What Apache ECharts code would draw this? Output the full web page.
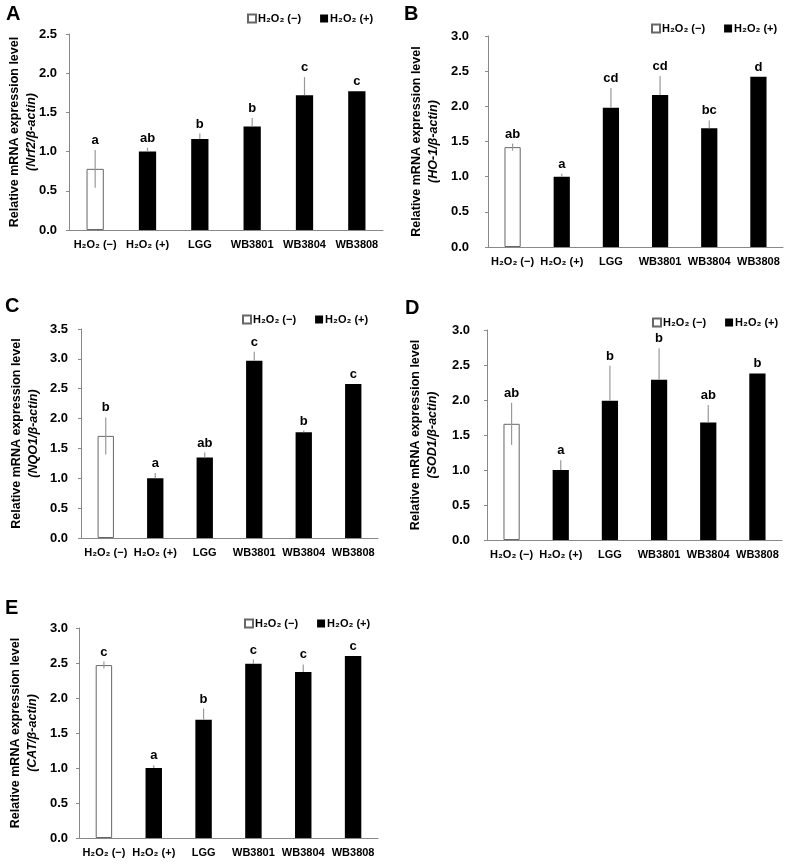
<!DOCTYPE html>
<html>
<head>
<meta charset="utf-8">
<script src="https://cdn.jsdelivr.net/npm/echarts@6/dist/echarts.min.js"></script>
<style>
  html, body { margin: 0; padding: 0; background: #fff; }
  #chart { width: 787px; height: 865px; }
</style>
</head>
<body>
<div id="chart"></div>
<script>
// groups on the x axis
const groups = ['H₂O₂ (−)', 'H₂O₂ (+)', 'LGG', 'WB3801', 'WB3804', 'WB3808']
const negName = 'H₂O₂ (−)'
const posName = 'H₂O₂ (+)'

// mean expression per panel
const nrf2Mean = [0.78, 1.00, 1.16, 1.32, 1.72, 1.77]
const ho1Mean = [1.42, 1.00, 1.98, 2.16, 1.69, 2.42]
const nqo1Mean = [1.71, 1.00, 1.35, 2.97, 1.77, 2.58]
const sod1Mean = [1.66, 1.00, 1.99, 2.29, 1.68, 2.38]
const catMean = [2.47, 1.00, 1.69, 2.49, 2.37, 2.60]

// error (SD) per panel
const nrf2Err = [0.24, 0.05, 0.07, 0.11, 0.23, 0]
const ho1Err = [0.05, 0.04, 0.28, 0.27, 0.11, 0]
const nqo1Err = [0.31, 0.09, 0.08, 0.15, 0.03, 0]
const sod1Err = [0.30, 0.14, 0.50, 0.45, 0.25, 0]
const catErr = [0.05, 0.04, 0.16, 0.06, 0.11, 0]

// significance letters
const nrf2Sig = ['a', 'ab', 'b', 'b', 'c', 'c']
const ho1Sig = ['ab', 'a', 'cd', 'cd', 'bc', 'd']
const nqo1Sig = ['b', 'a', 'ab', 'c', 'b', 'c']
const sod1Sig = ['ab', 'a', 'b', 'b', 'ab', 'b']
const catSig = ['c', 'a', 'b', 'c', 'c', 'c']

const FONT = '"Liberation Sans", Arial, sans-serif'

// nameX = centre of the two-line y title
const panels = [
  { tag: 'A', gene: 'Nrf2', mean: nrf2Mean, err: nrf2Err, sig: nrf2Sig, max: 2.5,
    grid: { left: 69, top: 34, width: 314, height: 196 }, labelGap: 12, nameX: 23,
    legend: { left: 247, top: 13 }, tagPos: [6, 4] },
  { tag: 'B', gene: 'HO-1', mean: ho1Mean, err: ho1Err, sig: ho1Sig, max: 3.0,
    grid: { left: 488, top: 36, width: 295, height: 211 }, labelGap: 19, nameX: 425,
    legend: { left: 651, top: 23 }, tagPos: [404, 4] },
  { tag: 'C', gene: 'NQO1', mean: nqo1Mean, err: nqo1Err, sig: nqo1Sig, max: 3.5,
    grid: { left: 81, top: 329, width: 297, height: 209 }, labelGap: 13, nameX: 25,
    legend: { left: 242, top: 314 }, tagPos: [5, 296] },
  { tag: 'D', gene: 'SOD1', mean: sod1Mean, err: sod1Err, sig: sod1Sig, max: 3.0,
    grid: { left: 487, top: 330, width: 295, height: 210 }, labelGap: 17, nameX: 424,
    legend: { left: 652, top: 317 }, tagPos: [405, 298] },
  { tag: 'E', gene: 'CAT', mean: catMean, err: catErr, sig: catSig, max: 3.0,
    grid: { left: 79, top: 628, width: 299, height: 210 }, labelGap: 11, nameX: 24,
    legend: { left: 244, top: 618 }, tagPos: [5, 598] }
]

const chart = echarts.init(document.getElementById('chart'))

const grids = []
const xAxes = []
const yAxes = []
const legends = []
const series = []
const graphics = []

panels.forEach((p, k) => {
  grids.push(p.grid)

  xAxes.push({
    type: 'category',
    gridIndex: k,
    data: groups,
    axisLine: { lineStyle: { color: '#888' } },
    axisTick: { length: 5, lineStyle: { color: '#888' } },
    axisLabel: { interval: 0, margin: 9, color: '#000', fontFamily: FONT, fontWeight: 'bold', fontSize: 11 }
  })

  yAxes.push({
    type: 'value',
    gridIndex: k,
    min: 0,
    max: p.max,
    interval: 0.5,
    splitLine: { show: false },
    axisLine: { show: true, lineStyle: { color: '#888' } },
    axisTick: { show: true, length: 3, lineStyle: { color: '#888' } },
    axisLabel: {
      margin: p.labelGap, color: '#000', fontFamily: FONT, fontWeight: 'bold', fontSize: 13,
      formatter: v => v.toFixed(1)
    }
  })

  legends.push({
    left: p.legend.left,
    top: p.legend.top,
    width: 200,
    padding: 0,
    orient: 'horizontal',
    itemWidth: 8,
    itemHeight: 8,
    itemGap: 19,
    selectedMode: false,
    icon: 'rect',
    data: [negName, posName],
    textStyle: { color: '#000', fontFamily: FONT, fontWeight: 'bold', fontSize: 11, padding: [0, 0, 0, -3] }
  })

  series.push({
    name: negName,
    type: 'bar',
    xAxisIndex: k,
    yAxisIndex: k,
    barWidth: '33%',
    barGap: '-100%',
    itemStyle: { color: '#fff', borderColor: '#666', borderWidth: 1 },
    data: p.mean.map((v, i) => (i === 0 ? v : '-')),
    z: 2
  })
  series.push({
    name: posName,
    type: 'bar',
    xAxisIndex: k,
    yAxisIndex: k,
    barWidth: '33%',
    barGap: '-100%',
    itemStyle: { color: '#000' },
    data: p.mean.map((v, i) => (i === 0 ? '-' : v)),
    z: 2
  })

  // error bars (upward; both sides on the open bar) + letters
  series.push({
    type: 'custom',
    xAxisIndex: k,
    yAxisIndex: k,
    z: 5,
    silent: true,
    data: p.mean.map((v, i) => [i, v, p.err[i], i === 0 ? 1 : 0]),
    renderItem(params, api) {
      const i = api.value(0)
      const v = api.value(1)
      const e = api.value(2)
      const open = api.value(3)
      const top = api.coord([i, v + e])
      const low = api.coord([i, open ? v - e : v])
      const children = []
      if (e > 0) {
        children.push({
          type: 'line',
          shape: { x1: top[0], y1: top[1], x2: low[0], y2: low[1] },
          style: { stroke: '#999', lineWidth: 1.2 }
        })
      }
      children.push({
        type: 'text',
        style: {
          x: top[0],
          y: top[1] - 3,
          text: p.sig[params.dataIndex],
          align: 'center',
          verticalAlign: 'bottom',
          fill: '#000',
          font: 'bold 13px ' + FONT
        }
      })
      return { type: 'group', children }
    }
  })

  // panel letter
  graphics.push({
    type: 'text',
    left: p.tagPos[0],
    top: p.tagPos[1],
    style: { text: p.tag, fill: '#000', font: 'bold 20px ' + FONT }
  })

  // y title, two lines, gene name in italics
  graphics.push({
    type: 'text',
    x: p.nameX,
    y: p.grid.top + p.grid.height / 2,
    rotation: Math.PI / 2,
    style: {
      text: 'Relative mRNA expression level\n{i|(' + p.gene + '/β-actin)}',
      align: 'center',
      verticalAlign: 'middle',
      fill: '#000',
      fontFamily: FONT,
      fontWeight: 'bold',
      fontSize: 12.5,
      lineHeight: 17,
      rich: { i: { fontStyle: 'italic', fontWeight: 'bold', fontFamily: FONT, fontSize: 12.5, lineHeight: 17 } }
    }
  })
})

chart.setOption({
  backgroundColor: '#fff',
  animation: false,
  grid: grids,
  xAxis: xAxes,
  yAxis: yAxes,
  legend: legends,
  series: series,
  graphic: graphics
})
</script>
</body>
</html>
